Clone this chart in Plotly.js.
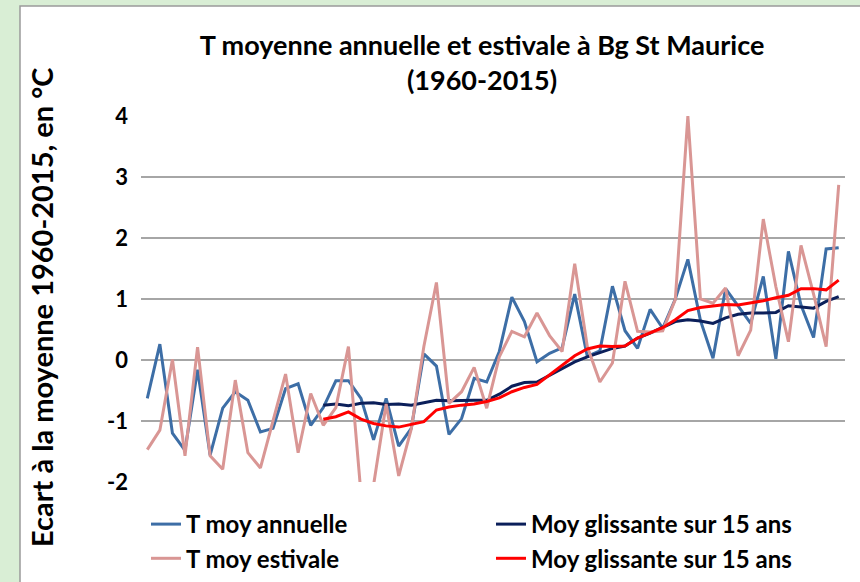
<!DOCTYPE html>
<html>
<head>
<meta charset="utf-8">
<script src="https://cdn.plot.ly/plotly-3.0.1.min.js"></script>
<style>html,body{margin:0;padding:0;background:#fff;}#chart{width:860px;height:582px;}</style>
</head>
<body>
<div id="chart"></div>
<script>
const years = [1960,1961,1962,1963,1964,1965,1966,1967,1968,1969,
  1970,1971,1972,1973,1974,1975,1976,1977,1978,1979,
  1980,1981,1982,1983,1984,1985,1986,1987,1988,1989,
  1990,1991,1992,1993,1994,1995,1996,1997,1998,1999,
  2000,2001,2002,2003,2004,2005,2006,2007,2008,2009,
  2010,2011,2012,2013,2014,2015];

const tAnnuelle = [-0.63,0.26,-1.20,-1.48,-0.16,-1.56,-0.79,-0.52,-0.66,-1.18,
  -1.12,-0.47,-0.39,-1.07,-0.78,-0.34,-0.34,-0.63,-1.31,-0.63,
  -1.41,-1.12,0.10,-0.10,-1.22,-0.96,-0.30,-0.36,0.14,1.03,
  0.63,-0.03,0.11,0.20,1.08,0.06,0.15,1.21,0.48,0.19,
  0.83,0.52,1.00,1.65,0.65,0.03,1.17,0.89,0.60,1.37,
  0.02,1.78,0.90,0.37,1.82,1.84];

const tEstivale = [-1.47,-1.15,0.01,-1.57,0.21,-1.57,-1.79,-0.33,-1.52,-1.77,
  -1.00,-0.23,-1.52,-0.55,-1.07,-0.78,0.22,-2.20,-2.05,-0.72,
  -1.90,-1.13,0.22,1.27,-0.71,-0.52,-0.12,-0.79,0.05,0.47,
  0.38,0.77,0.40,0.14,1.58,0.22,-0.36,-0.05,1.29,0.47,
  0.46,0.48,0.99,4.00,1.00,0.93,1.18,0.07,0.49,2.31,
  1.20,0.30,1.88,1.08,0.22,2.87];

const moyGlissAnnuelle = [null,null,null,null,null,null,null,null,null,null,
  null,null,null,null,-0.74,-0.72,-0.75,-0.71,-0.70,-0.73,
  -0.72,-0.74,-0.70,-0.66,-0.67,-0.66,-0.66,-0.66,-0.56,-0.43,
  -0.37,-0.36,-0.25,-0.13,-0.03,0.05,0.12,0.19,0.23,0.36,
  0.44,0.53,0.63,0.66,0.64,0.60,0.69,0.75,0.77,0.77,
  0.78,0.89,0.87,0.85,0.96,1.04];

const moyGlissEstivale = [null,null,null,null,null,null,null,null,null,null,
  null,null,null,null,-0.97,-0.93,-0.85,-0.97,-1.04,-1.08,
  -1.10,-1.05,-1.01,-0.82,-0.77,-0.74,-0.72,-0.68,-0.62,-0.52,
  -0.45,-0.40,-0.24,-0.08,0.07,0.18,0.23,0.22,0.23,0.36,
  0.45,0.53,0.66,0.81,0.86,0.89,0.91,0.90,0.93,0.97,
  1.02,1.06,1.17,1.17,1.15,1.31];

const seriesNames = ["T moy annuelle","Moy glissante sur 15 ans","T moy estivale","Moy glissante sur 15 ans"];
const yTicks = [-2,-1,0,1,2,3,4];

const FONT = "Lato, 'Open Sans', sans-serif";

const px = v => (v - 141) / 704;
const py = v => (482 - v) / 366;

const traces = [
  {x: years, y: tAnnuelle, name: seriesNames[0], type: 'scatter', mode: 'lines',
   line: {color: '#3d6ea6', width: 3}},
  {x: years, y: moyGlissAnnuelle, name: seriesNames[1], type: 'scatter', mode: 'lines',
   line: {color: '#0b1f5a', width: 3}},
  {x: years, y: tEstivale, name: seriesNames[2], type: 'scatter', mode: 'lines',
   line: {color: '#d99694', width: 3}},
  {x: years, y: moyGlissEstivale, name: seriesNames[3], type: 'scatter', mode: 'lines',
   line: {color: '#ff0000', width: 3}}
];

const layout = {
  width: 860, height: 582,
  margin: {l: 141, r: 15, t: 116, b: 100, pad: 0, autoexpand: false},
  paper_bgcolor: '#d9eed5',
  plot_bgcolor: 'rgba(0,0,0,0)',
  font: {family: FONT, color: '#000'},
  title: {
    text: '<b>T moyenne annuelle et estivale à Bg St Maurice<br>(1960-2015)</b>',
    font: {family: FONT, size: 27, color: '#000'},
    x: 482/860, xanchor: 'center', xref: 'container',
    y: 1 - 55/582, yanchor: 'middle', yref: 'container'
  },
  xaxis: {
    range: [1959.5, 2015.5], showticklabels: false, showgrid: false,
    zeroline: false, showline: false, ticks: '', fixedrange: true
  },
  yaxis: {
    range: [-2, 4], tickvals: yTicks, ticktext: yTicks.map(String),
    showgrid: true, gridcolor: '#a6a6a6', gridwidth: 1.3,
    zeroline: false, showline: false, ticks: '',
    tickfont: {family: FONT, size: 22, color: '#000', weight: 'bold'},
    ticklabelstandoff: 12
  },
  showlegend: true,
  legend: {
    orientation: 'h', xref: 'container', yref: 'container',
    x: 146/860, xanchor: 'left', y: 1 - 502/582, yanchor: 'top',
    font: {family: FONT, size: 24, color: '#000', weight: 'bold'},
    entrywidth: 300, entrywidthmode: 'pixels',
    bgcolor: 'rgba(0,0,0,0)', tracegroupgap: 0, itemwidth: 30
  },
  shapes: [
    {type: 'rect', xref: 'paper', yref: 'paper', layer: 'below',
     x0: px(20), x1: px(880), y0: py(600), y1: py(6),
     fillcolor: '#ffffff', line: {color: '#9a9a9a', width: 1.5}}
  ],
  annotations: [
    {text: '<b>Ecart à la moyenne 1960-2015, en °C</b>', textangle: -90,
     xref: 'paper', yref: 'paper', x: px(41), y: py(308),
     xanchor: 'center', yanchor: 'middle', showarrow: false,
     font: {family: FONT, size: 29, color: '#000'}}
  ]
};

Plotly.newPlot('chart', traces, layout, {staticPlot: true, displayModeBar: false});
</script>
</body>
</html>
